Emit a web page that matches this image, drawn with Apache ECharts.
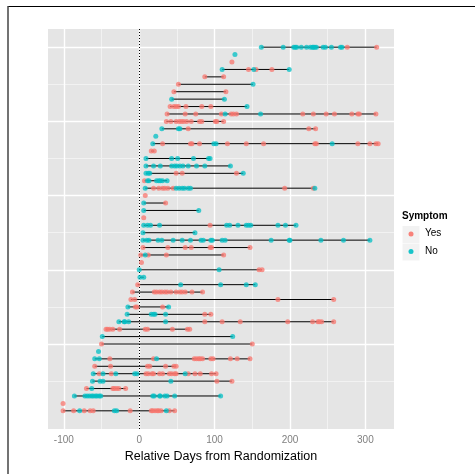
<!DOCTYPE html>
<html>
<head>
<meta charset="utf-8">
<script src="https://cdn.jsdelivr.net/npm/echarts@6/dist/echarts.min.js"></script>
<style>
html, body { margin: 0; padding: 0; background: #fff; }
#root { width: 475px; height: 474px; }
</style>
</head>
<body>
<div id="root"></div>
<script>
// one entry per subject, from the top row (50) down to the bottom row (1)
// days with Symptom = Yes
const symptomYes = [
  [276, 315],
  [],
  [123],
  [145, 155, 176],
  [87, 112],
  [52],
  [46, 115],
  [],
  [41, 46, 49, 52, 62, 83, 95],
  [37, 61, 75, 109, 122, 125, 129, 217, 231, 248, 259, 282, 290, 292, 314],
  [36, 42, 49, 53, 56, 59, 63, 69, 80, 83, 101, 103, 112],
  [65, 225, 234],
  [],
  [31, 68, 70, 80, 117, 142, 165, 233, 235, 290, 306, 314, 317],
  [16, 20],
  [],
  [],
  [49, 57, 129],
  [7],
  [19, 26, 31, 34, 38, 45, 193, 231],
  [8],
  [35],
  [],
  [6],
  [94],
  [],
  [],
  [5, 38, 61, 69, 94, 96, 147],
  [2, 12, 36, 112],
  [3],
  [159, 163],
  [],
  [-2],
  [-9, 20, 23, 27, 30, 34, 37, 42, 49, 54, 57, 61, 70, 84],
  [-11, -6, 184, 258],
  [-5, -3, 31],
  [87, 95],
  [87, 110, 134, 197, 230, 237, 239, 242, 258],
  [-44, -42, -39, -35, -26, 8, 11, 44, 64, 67],
  [],
  [-50, 150],
  [],
  [-39, 19, 73, 76, 79, 81, 84, 95, 98, 121, 130, 147],
  [-59, -38, 11, 14, 35, 46, 49],
  [-53, -37, 9, 12, 17, 19, 27, 31, 40, 43, 47, 49, 65, 74, 81, 96, 102],
  [103, 123],
  [-70, -35, -33, -30, -27, -18],
  [],
  [-101],
  [-101, -87, -73, -65, -61, -12, 16, 18, 21, 24, 26, 29, 40, 47]
];
// days with Symptom = No
const symptomNo = [
  [162, 191, 205, 207, 209, 215, 222, 227, 230, 231, 233, 235, 244, 247, 255, 267, 269],
  [127],
  [],
  [110, 152, 199],
  [],
  [151],
  [],
  [43, 113],
  [143],
  [114, 161],
  [],
  [30, 52, 54],
  [22],
  [18, 99, 102, 256],
  [],
  [9, 43, 51, 72, 92, 94],
  [9, 19, 28, 43, 47, 50, 54, 58, 65, 76, 87, 121],
  [9, 12, 14, 138],
  [11, 13, 23, 26, 28, 31, 37],
  [8, 49, 53, 57, 60, 65, 68, 233],
  [],
  [6],
  [6, 79],
  [],
  [6, 11, 15, 27, 116, 120, 131, 142, 145, 148, 184, 194, 208],
  [5, 74],
  [5, 10, 13, 25, 30, 45, 57, 68, 82, 85, 95, 97, 110, 114, 175, 199, 200, 241, 271, 306],
  [],
  [8],
  [],
  [0, 106],
  [1, 6],
  [55, 108, 142, 154],
  [],
  [],
  [-15, 39],
  [-16, 16, 19, 21, 35],
  [-27, -20, -19, -14, 35],
  [],
  [-49, 124],
  [],
  [-54],
  [-59, -53, 23],
  [],
  [-61, -48, -31, -6, -3, 61],
  [-62, -52, -48, 42],
  [-63],
  [-86, -72, -69, -66, -63, -61, -58, -56, -53, -51, 18, 20, 27, 28, 34, 37, 47, 108],
  [],
  [-79, -33, -30, 36]
];
const xTicks = [-100, 0, 100, 200, 300];
const xMinor = [-50, 50, 150, 250];
const yTicks = [10, 20, 30, 40, 50];
const yMinor = [5, 15, 25, 35, 45];

const nRows = symptomYes.length;
let yesPts = [], noPts = [], segs = [];
for (let i = 0; i < nRows; i++) {
  const row = nRows - i;
  symptomYes[i].forEach(d => yesPts.push([d, row]));
  symptomNo[i].forEach(d => noPts.push([d, row]));
  const all = symptomYes[i].concat(symptomNo[i]);
  segs.push([Math.min(...all), Math.max(...all), row]);
}

// panel grid lines + dotted line at day 0
let gridLines = [];
xMinor.forEach(v => gridLines.push({xAxis: v, lineStyle: {color: '#F2F2F2', width: 1, type: 'solid'}}));
yMinor.forEach(v => gridLines.push({yAxis: v, lineStyle: {color: '#F2F2F2', width: 1, type: 'solid'}}));
xTicks.forEach(v => gridLines.push({xAxis: v, lineStyle: {color: '#FFFFFF', width: 1.4, type: 'solid'}}));
yTicks.forEach(v => gridLines.push({yAxis: v, lineStyle: {color: '#FFFFFF', width: 1.4, type: 'solid'}}));
gridLines.push({xAxis: 0, lineStyle: {color: '#000', width: 1, type: [1, 2]}});

let root = document.getElementById('root');
let myCharts = echarts.init(root);
let option = {
  animation: false,
  textStyle: { fontFamily: '"Liberation Sans", Arial, sans-serif' },
  grid: {
    left: 48, top: 29, right: 81, bottom: 45,
    show: true, backgroundColor: '#E5E5E5', borderWidth: 0
  },
  xAxis: {
    type: 'value',
    min: -121, max: 338,
    splitLine: { show: false },
    axisLine: { show: false },
    axisTick: { show: true, customValues: xTicks, length: 4, lineStyle: { color: '#7F7F7F' } },
    axisLabel: { customValues: xTicks, color: '#7F7F7F', fontSize: 10, margin: 6 },
    name: 'Relative Days from Randomization',
    nameLocation: 'middle',
    nameGap: 18,
    nameTextStyle: { fontSize: 12.5, color: '#000' }
  },
  yAxis: {
    type: 'value',
    min: -1.45, max: 52.45,
    splitLine: { show: false },
    axisLine: { show: false },
    axisTick: { show: true, customValues: yTicks, length: 4, lineStyle: { color: '#7F7F7F' } },
    axisLabel: { show: false }
  },
  series: [
    {
      type: 'line',
      data: [],
      z: 1,
      markLine: {
        z: 1,
        silent: true,
        symbol: ['none', 'none'],
        label: { show: false },
        animation: false,
        data: gridLines
      }
    },
    {
      type: 'custom',
      z: 2,
      data: segs,
      encode: { x: [0, 1], y: 2 },
      renderItem: function (params, api) {
        const a = api.coord([api.value(0), api.value(2)]);
        const b = api.coord([api.value(1), api.value(2)]);
        return {
          type: 'line',
          shape: { x1: a[0], y1: a[1], x2: b[0], y2: b[1] },
          style: { stroke: '#000', lineWidth: 1 }
        };
      }
    },
    {
      name: 'Yes',
      type: 'scatter',
      z: 3,
      symbolSize: 5,
      itemStyle: { color: '#F8766D', opacity: 0.75 },
      data: yesPts
    },
    {
      name: 'No',
      type: 'scatter',
      z: 3,
      symbolSize: 5,
      itemStyle: { color: '#00BFC4', opacity: 0.75 },
      data: noPts
    }
  ],
  graphic: [
    // outer frame lines
    { type: 'line', shape: { x1: 8, y1: 6.5, x2: 475, y2: 6.5 }, style: { stroke: '#000', lineWidth: 1 } },
    { type: 'line', shape: { x1: 8, y1: 6, x2: 8, y2: 474 }, style: { stroke: '#444', lineWidth: 1.5 } },
    // legend
    { type: 'text', left: 402, top: 211, style: { text: 'Symptom', font: 'bold 10px "Liberation Sans", Arial, sans-serif', fill: '#000' } },
    { type: 'rect', shape: { x: 402.5, y: 226, width: 17, height: 17 }, style: { fill: '#F2F2F2' } },
    { type: 'rect', shape: { x: 402.5, y: 243.5, width: 17, height: 17 }, style: { fill: '#F2F2F2' } },
    { type: 'circle', shape: { cx: 411, cy: 234, r: 2.5 }, style: { fill: '#F8766D', opacity: 0.9 } },
    { type: 'circle', shape: { cx: 411, cy: 251.5, r: 2.5 }, style: { fill: '#00BFC4', opacity: 0.9 } },
    { type: 'text', left: 425, top: 228, style: { text: 'Yes', font: '10px "Liberation Sans", Arial, sans-serif', fill: '#000' } },
    { type: 'text', left: 425, top: 246, style: { text: 'No', font: '10px "Liberation Sans", Arial, sans-serif', fill: '#000' } }
  ]
};
myCharts.setOption(option);
</script>
</body>
</html>
